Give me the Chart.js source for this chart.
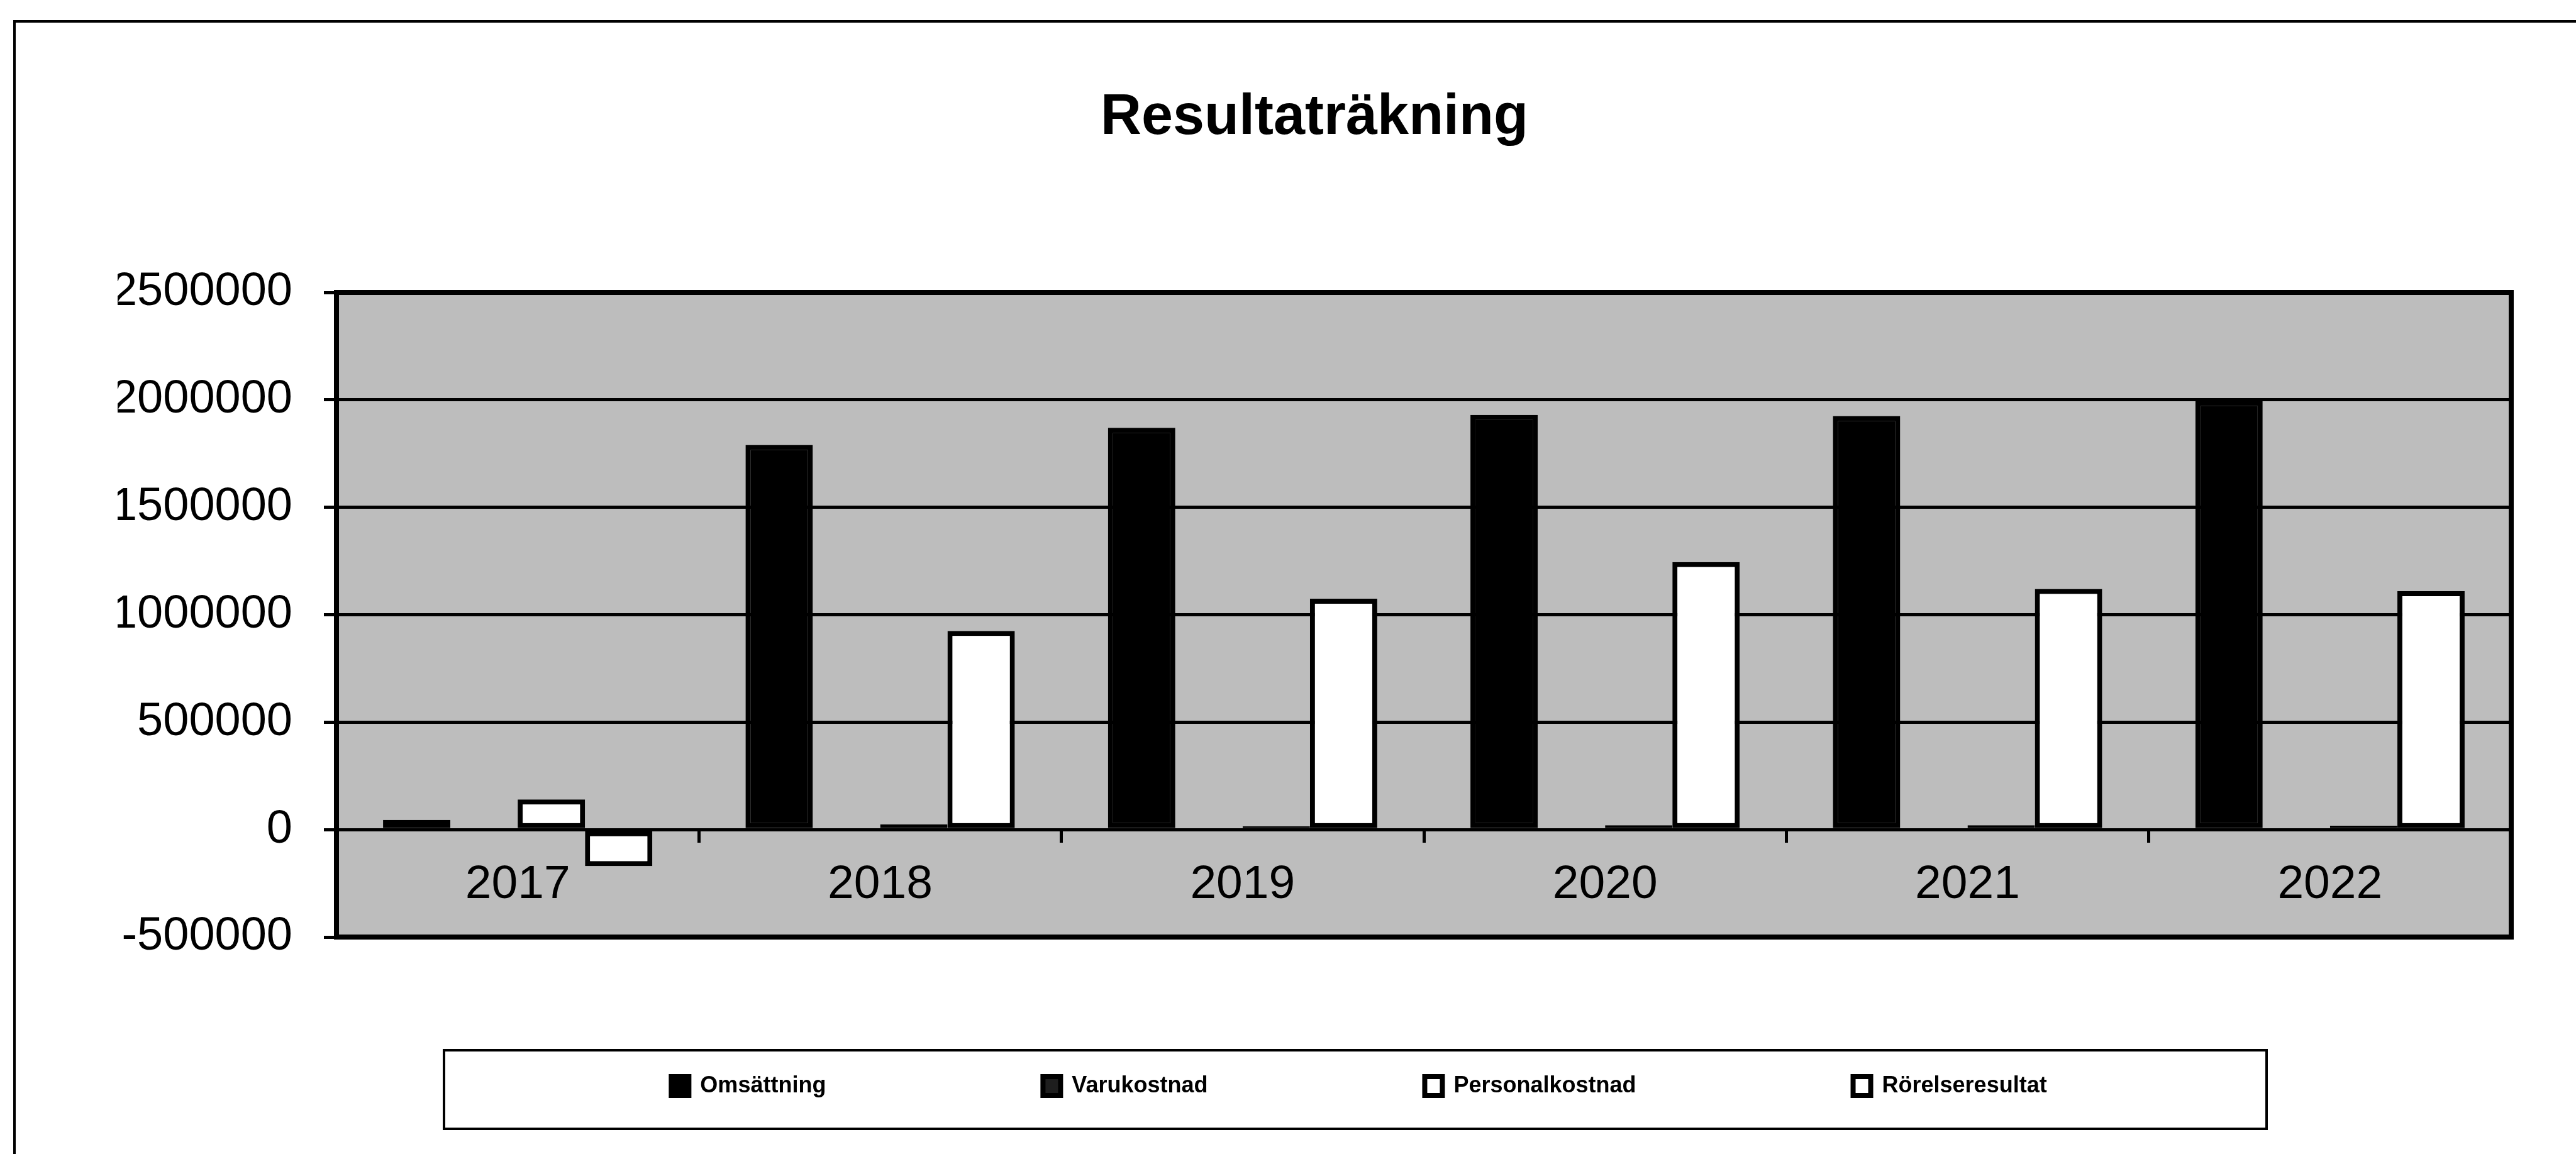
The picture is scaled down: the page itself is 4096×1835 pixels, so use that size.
<!DOCTYPE html>
<html><head><meta charset="utf-8">
<script src="https://cdn.jsdelivr.net/npm/chart.js@4.4.1/dist/chart.umd.min.js"></script>
<style>html,body{margin:0;padding:0;background:#fff;overflow:hidden}#wrap{position:relative;width:4096px;height:1835px}</style>
</head><body><div id="wrap"><canvas id="c" width="4096" height="1835"></canvas></div>
<script>
const categories = ['2017', '2018', '2019', '2020', '2021', '2022'];
const omsattning = [45000, 1790000, 1870000, 1930000, 1925000, 1995000];
const varukostnad = [0, 0, 0, 0, 0, 0];
const personalkostnad = [140000, 25000, 15000, 20000, 20000, 18000];
const rorelseresultat = [-170000, 925000, 1075000, 1245000, 1120000, 1110000];
const seriesNames = ['Omsättning', 'Varukostnad', 'Personalkostnad', 'Rörelseresultat'];
const yTicks = [-500000, 0, 500000, 1000000, 1500000, 2000000, 2500000];
const titleText = 'Resultaträkning';

const F = "'Liberation Sans', Arial, sans-serif";
Chart.defaults.color = '#000';
Chart.defaults.font.family = F;

const framePlugin = {
  id: 'frame',
  afterLayout(chart) {
    const lg = chart.legend;
    if (lg) {
      const dx = 2161 - (lg.left + lg.right) / 2;
      lg.left += dx; lg.right += dx;
      const pad = chart.options.plugins.legend.labels.padding;
      lg.top = 1709 - pad; lg.bottom = 1800;
    }
  },
  beforeDraw(chart) {
    const {ctx, chartArea: a} = chart;
    ctx.save();
    ctx.fillStyle = '#bdbdbd';
    ctx.fillRect(a.left, a.top, a.right - a.left, a.bottom - a.top);
    ctx.strokeStyle = '#000'; ctx.lineWidth = 4;
    ctx.beginPath(); ctx.moveTo(23, 1835); ctx.lineTo(23, 34); ctx.lineTo(4096, 34); ctx.stroke();
    ctx.restore();
  },
  afterDraw(chart) {
    const {ctx, chartArea: a} = chart;
    ctx.save();
    ctx.strokeStyle = '#000'; ctx.lineWidth = 8;
    ctx.strokeRect(a.left, a.top, a.right - a.left, a.bottom - a.top);
    ctx.lineWidth = 4;
    ctx.strokeRect(706, 1670, 2898, 125);
    ctx.restore();
  }
};

const fills = ['#000000', '#1e1e1e', '#ffffff', '#ffffff'];
const seriesData = [omsattning, varukostnad, personalkostnad, rorelseresultat];

new Chart(document.getElementById('c'), {
  type: 'bar',
  data: {
    labels: categories,
    datasets: seriesNames.map((name, i) => ({
      label: name,
      data: seriesData[i],
      backgroundColor: fills[i],
      borderColor: '#000',
      borderWidth: 8,
      borderSkipped: false,
      categoryPercentage: 0.743,
      barPercentage: 1.0
    }))
  },
  options: {
    responsive: false,
    devicePixelRatio: 1,
    animation: false,
    layout: {padding: {left: 187, right: 103, top: 0, bottom: 295}},
    plugins: {
      tooltip: {enabled: false},
      title: {
        display: true, text: titleText, color: '#000',
        font: {size: 90, weight: 'bold', family: F},
        padding: {top: 134, bottom: 223}
      },
      legend: {
        position: 'bottom',
        maxHeight: 50,
        labels: {
          color: '#000',
          font: {size: 36, weight: 'bold', family: F},
          boxWidth: 28, boxHeight: 30,
          padding: 345
        }
      }
    },
    scales: {
      x: {
        position: {y: 0},
        grid: {drawOnChartArea: false, drawTicks: true, tickLength: 18, color: '#000', lineWidth: 5, offset: true},
        border: {display: true, color: '#000', width: 5},
        ticks: {font: {size: 75, family: F}, color: '#000', padding: 25, maxRotation: 0, autoSkip: false}
      },
      y: {
        position: 'left',
        min: -500000, max: 2500000,
        afterFit: s => { s.width = 535 - 187; },
        afterBuildTicks: s => { s.ticks = yTicks.map(v => ({value: v})); },
        grid: {color: '#000', lineWidth: 5, drawTicks: true, tickLength: 20},
        border: {display: true, color: '#000', width: 8},
        ticks: {font: {size: 74, family: F}, color: '#000', padding: 50, callback: v => String(v)}
      }
    }
  },
  plugins: [framePlugin]
});
</script>
</body></html>
